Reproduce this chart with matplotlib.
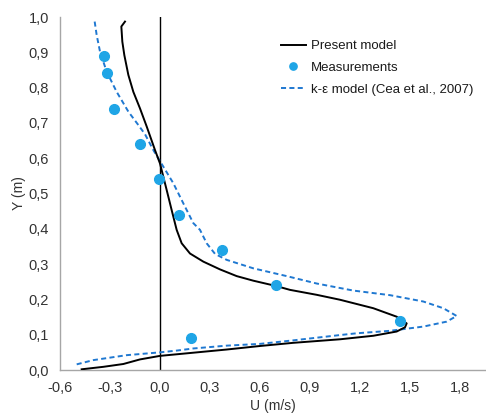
import matplotlib
matplotlib.use("Agg")
import matplotlib.pyplot as plt
from matplotlib.ticker import FuncFormatter

plt.rcParams['font.family'] = ['Liberation Sans', 'DejaVu Sans']

# Present model profile (U, Y)
present_u = [-0.21, -0.232, -0.226, -0.214, -0.19, -0.16, -0.12, -0.08, -0.03, 0.0,
             0.04, 0.07, 0.10, 0.13, 0.18, 0.26, 0.36, 0.46, 0.56, 0.696, 0.78,
             0.94, 1.08, 1.28, 1.42, 1.48, 1.47, 1.42, 1.28, 1.08, 0.80, 0.60,
             0.40, 0.20, 0.0, -0.12, -0.22, -0.34, -0.47]
present_y = [0.987, 0.973, 0.930, 0.892, 0.836, 0.788, 0.741, 0.690, 0.623, 0.585,
             0.510, 0.453, 0.397, 0.359, 0.330, 0.307, 0.285, 0.266, 0.253, 0.238, 0.227,
             0.213, 0.199, 0.175, 0.151, 0.132, 0.121, 0.109, 0.097, 0.087, 0.077, 0.068,
             0.058, 0.049, 0.040, 0.030, 0.017, 0.009, 0.002]

# Measured velocities
meas_u = [-0.334, -0.318, -0.276, -0.122, -0.008, 0.114, 0.370, 0.696, 1.442, 0.184]
meas_y = [0.89, 0.84, 0.74, 0.64, 0.54, 0.44, 0.34, 0.24, 0.14, 0.09]

# k-epsilon model profile (Cea et al., 2007)
ke_u = [-0.392, -0.38, -0.36, -0.32, -0.26, -0.19, -0.13, -0.09, -0.04, 0.02,
        0.08, 0.14, 0.20, 0.24, 0.28, 0.33, 0.40, 0.56, 0.76, 0.94, 1.16,
        1.38, 1.58, 1.70, 1.78, 1.72, 1.58, 1.38, 1.18, 1.08, 0.80, 0.60,
        0.40, 0.20, 0.10, 0.0, -0.20, -0.40, -0.50]
ke_y = [0.987, 0.949, 0.902, 0.845, 0.788, 0.732, 0.694, 0.668, 0.623, 0.576,
        0.529, 0.472, 0.416, 0.397, 0.359, 0.329, 0.312, 0.288, 0.266, 0.245, 0.225,
        0.212, 0.194, 0.175, 0.153, 0.137, 0.123, 0.111, 0.104, 0.099, 0.084, 0.074,
        0.069, 0.061, 0.055, 0.050, 0.042, 0.028, 0.016]

x_ticks = [-0.6, -0.3, 0.0, 0.3, 0.6, 0.9, 1.2, 1.5, 1.8]
y_ticks = [0.0, 0.1, 0.2, 0.3, 0.4, 0.5, 0.6, 0.7, 0.8, 0.9, 1.0]


def comma(v, pos):
    s = f"{v:.1f}".replace('.', ',')
    return '0,0' if s == '-0,0' else s


fig = plt.figure(figsize=(4.86, 4.19), dpi=100)
ax = fig.add_axes([60 / 486, 49 / 419, 426 / 486, 353 / 419])

ax.plot([0, 0], [0, 1], color='black', lw=1.0, zorder=1)
ax.plot(present_u, present_y, color='black', lw=1.4, label='Present model', zorder=3,
        solid_joinstyle='round')
ax.plot(meas_u, meas_y, 'o', ls='none', color='#1fa5e6', markersize=7,
        label='Measurements', zorder=4)
ax.plot(ke_u, ke_y, color='#1f78d1', lw=1.4, ls=(0, (2.6, 1.7)),
        label='k-ε model (Cea et al., 2007)', zorder=2)

ax.set_xlim(-0.6, 1.956)
ax.set_ylim(0, 1.0)
ax.set_xticks(x_ticks)
ax.set_yticks(y_ticks)
ax.xaxis.set_major_formatter(FuncFormatter(comma))
ax.yaxis.set_major_formatter(FuncFormatter(comma))
ax.tick_params(length=0, labelsize=10.5, colors='#333333', pad=8)

for s in ('top', 'right'):
    ax.spines[s].set_visible(False)
for s in ('left', 'bottom'):
    ax.spines[s].set_color('#a6a6a6')
    ax.spines[s].set_linewidth(1.0)

ax.set_xlabel('U (m/s)', fontsize=10, color='#333333', labelpad=3)
ax.set_ylabel('Y (m)', fontsize=10, color='#333333', labelpad=2)

leg = ax.legend(loc='upper left', bbox_to_anchor=(0.519, 0.935), frameon=False,
                fontsize=9.5, handlelength=1.85, handletextpad=0.4, labelspacing=0.72,
                borderaxespad=0, borderpad=0, markerscale=0.75)
for t in leg.get_texts():
    t.set_color('#1a1a1a')

fig.savefig('out.png', dpi=100)
